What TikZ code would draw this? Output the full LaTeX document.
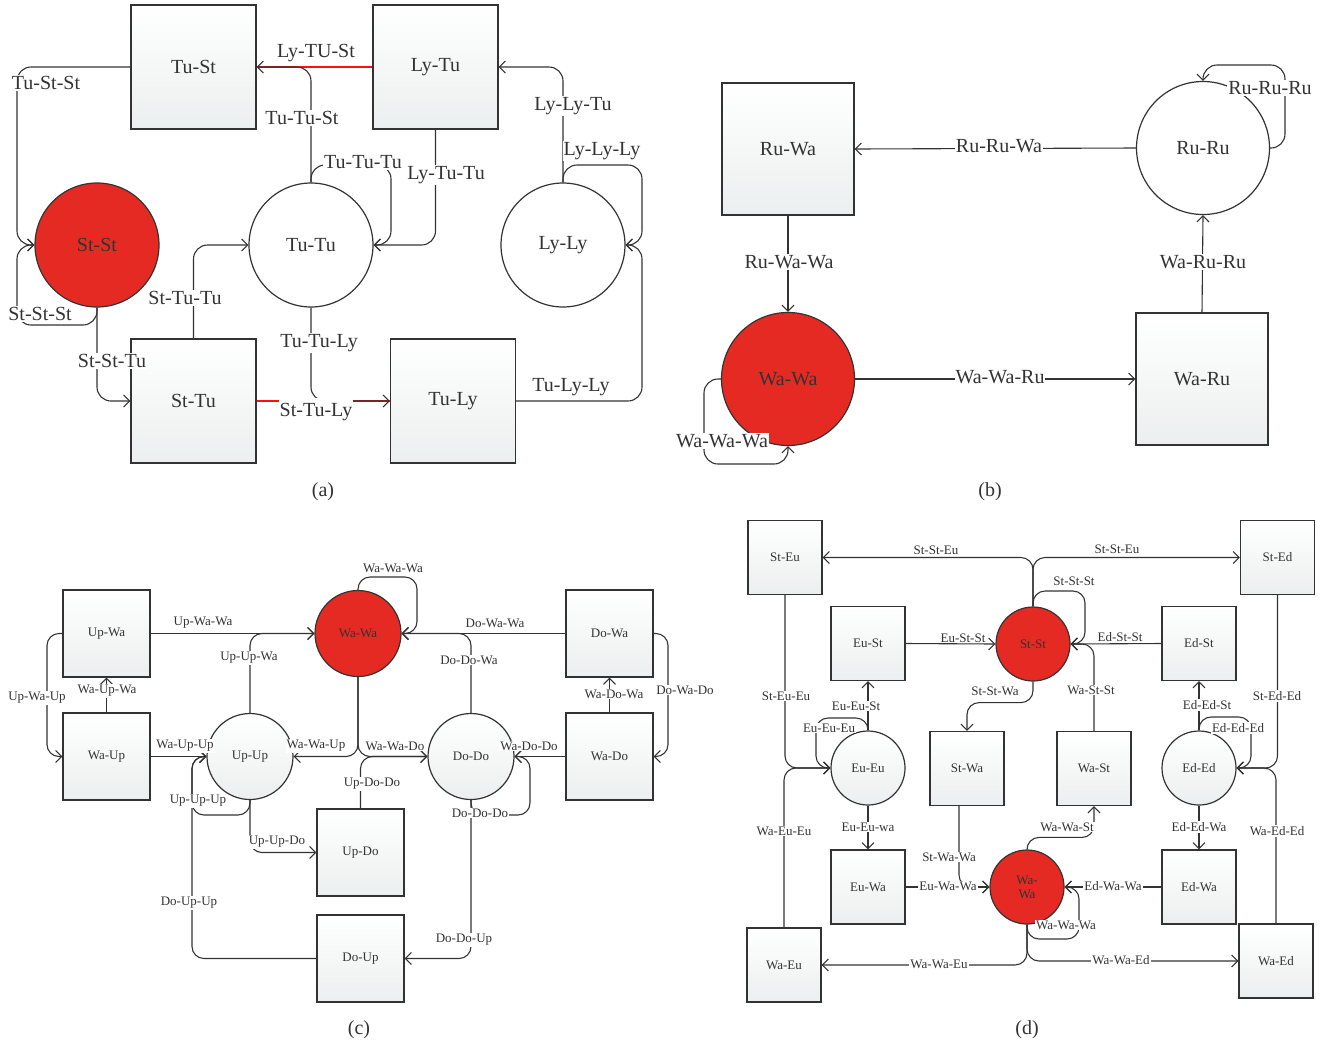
\documentclass[tikz,border=0pt]{standalone}
\usepackage{fontspec}
\setmainfont{Liberation Serif}
\usetikzlibrary{arrows.meta}
\definecolor{redfill}{HTML}{E52A24}
\definecolor{redline}{HTML}{FF1010}
\definecolor{ln}{HTML}{333333}
\definecolor{boxbot}{HTML}{ECEFEF}
\tikzset{
 fA/.style={font=\fontsize{20}{22}\selectfont},
 fC/.style={font=\fontsize{13}{14}\selectfont},
 bx/.style={rectangle, draw=ln, line width=1.3pt, top color=white, bottom color=boxbot, inner sep=0pt},
 cw/.style={circle, draw=ln, line width=1.2pt, fill=white, inner sep=0pt},
 cg/.style={circle, draw=ln, line width=1.2pt, top color=white, bottom color=boxbot, inner sep=0pt},
 cr/.style={circle, draw=ln, line width=1.2pt, fill=redfill, inner sep=0pt},
 bA/.style={bx, fA, minimum width=125pt, minimum height=124pt},
 cA/.style={fA, minimum size=124pt},
 bB/.style={bx, fA, minimum width=132pt, minimum height=132pt},
 cB/.style={fA, minimum size=133pt},
 bC/.style={bx, fC, minimum width=87pt, minimum height=87pt},
 cC/.style={fC, minimum size=86pt},
 bD/.style={bx, fC, minimum width=74pt, minimum height=74pt},
 cD/.style={fC, minimum size=74pt},
 ed/.style={draw=ln, line width=1.1pt, rounded corners=14pt, -{Straight Barb[length=6pt,width=12pt]}},
 edc/.style={ed, rounded corners=12pt},
 rl/.style={draw=redline, line width=1.4pt},
 lab/.style={fill=white, inner sep=1pt, text=ln},
 labA/.style={lab, fA},
 labC/.style={lab, fC},
}
\begin{document}
\begin{tikzpicture}[x=1pt,y=-1pt, every node/.append style={text=ln}]
\useasboundingbox (0,0) rectangle (1329,1045);
\fill[white] (0,0) rectangle (1329,1045);
% ---------------- (a) ----------------
\node[bA] (aTuSt) at (193.5,67) {Tu-St};
\node[bA] (aLyTu) at (435.5,67) {Ly-Tu};
\node[cA, cr] (aStSt) at (97,245) {St-St};
\node[cA, cw] (aTuTu) at (311,245) {Tu-Tu};
\node[cA, cw] (aLyLy) at (563,245) {Ly-Ly};
\node[bA] (aStTu) at (193.5,401) {St-Tu};
\node[bA] (aTuLy) at (453,401) {Tu-Ly};
\draw[rl] (aStTu.east) -- (aTuLy.west);
\draw[rl] (aLyTu.west) -- (aTuSt.east);
\draw[ed] (aTuSt.west) -| (17,245) -- (aStSt.west);
\draw[ed] (aStSt.south) |- (17,325) |- (aStSt.west);
\draw[ed] (aStSt.south) |- (aStTu.west);
\draw[ed] (aStTu.north) |- (aTuTu.west);
\draw[ed] (aTuTu.north) |- (aTuSt.east);
\draw[ed] (aTuTu.north) |- (391,165) |- (aTuTu.east);
\draw[ed] (aLyTu.south) |- (aTuTu.east);
\draw[ed] (aTuTu.south) |- (aTuLy.west);
\draw[ed] (aLyLy.north) |- (aLyTu.east);
\draw[ed] (aLyLy.north) |- (642,165) |- (aLyLy.east);
\draw[ed] (aTuLy.east) -| (642,245) -- (aLyLy.east);
\node[labA] (la1) at (46,83) {Tu-St-St};
\node[labA] (la2) at (316,53) {Ly-TU-St};
\node[labA] (la3) at (302,118) {Tu-Tu-St};
\node[labA] (la4) at (363,162) {Tu-Tu-Tu};
\node[labA] (la5) at (446,175) {Ly-Tu-Tu};
\node[labA] (la6) at (573,106) {Ly-Ly-Tu};
\node[labA] (la7) at (602,151) {Ly-Ly-Ly};
\node[labA] (la8) at (40,314) {St-St-St};
\node[labA] (la9) at (185,298) {St-Tu-Tu};
\node[labA] (la10) at (112,361) {St-St-Tu};
\node[labA] (la11) at (319,343) {Tu-Tu-Ly};
\node[labA, inner ysep=5pt] (la12) at (316,412) {St-Tu-Ly};
\node[labA] (la13) at (571,387) {Tu-Ly-Ly};
\node[fA] (capa) at (323,492) {(a)};
% ---------------- (b) ----------------
\node[bB] (bRuWa) at (788,149) {Ru-Wa};
\node[cB, cw] (bRuRu) at (1203,148) {Ru-Ru};
\node[cB, cr] (bWaWa) at (788,379) {Wa-Wa};
\node[bB] (bWaRu) at (1202,379) {Wa-Ru};
\draw[ed] (bRuRu.west) -- (bRuWa.east);
\draw[ed] (bRuWa.south) -- (bWaWa.north);
\draw[ed] (bWaWa.east) -- (bWaRu.west);
\draw[ed] (bWaRu.north) -- (bRuRu.south);
\draw[ed] (bRuRu.east) -| (1285,65) -| (bRuRu.north);
\draw[ed] (bWaWa.west) -| (704,464) -| (bWaWa.south);
\node[labA] (lb1) at (999,146) {Ru-Ru-Wa};
\node[labA] (lb2) at (789,262) {Ru-Wa-Wa};
\node[labA] (lb3) at (1000,377) {Wa-Wa-Ru};
\node[labA] (lb4) at (1203,262) {Wa-Ru-Ru};
\node[labA] (lb5) at (1270,88) {Ru-Ru-Ru};
\node[labA] (lb6) at (722,441) {Wa-Wa-Wa};
\node[fA] (capb) at (990,492) {(b)};
% ---------------- (c) ----------------
\node[bC] (cUpWa) at (106.5,633.5) {Up-Wa};
\node[bC] (cWaUp) at (106.5,756.5) {Wa-Up};
\node[cC, cg] (cUpUp) at (250,756.5) {Up-Up};
\node[cC, cr] (cWaWa) at (358,633.5) {Wa-Wa};
\node[bC] (cDoWa) at (609.5,633.5) {Do-Wa};
\node[bC] (cWaDo) at (609.5,756.5) {Wa-Do};
\node[cC, cg] (cDoDo) at (471,756.5) {Do-Do};
\node[bC] (cUpDo) at (360.5,852.5) {Up-Do};
\node[bC] (cDoUp) at (360.5,958.5) {Do-Up};
\draw[edc] (cUpWa.east) -- (cWaWa.west);
\draw[edc] (cUpUp.north) |- (cWaWa.west);
\draw[edc] (cWaWa.north) |- (417,577) |- (cWaWa.east);
\draw[edc] (cDoWa.west) -- (cWaWa.east);
\draw[edc] (cDoDo.north) |- (cWaWa.east);
\draw[edc] (cWaWa.south) |- (cUpUp.east);
\draw[edc] (cWaWa.south) |- (cDoDo.west);
\draw[edc] (cWaUp.east) -- (cUpUp.west);
\draw[edc] (cUpUp.south) |- (192,815) |- (cUpUp.west);
\draw[edc] (cDoUp.west) -| (192,756.5) -- (cUpUp.west);
\draw[edc] (cUpUp.south) |- (cUpDo.west);
\draw[edc] (cUpDo.north) |- (cDoDo.west);
\draw[edc] (cDoDo.south) |- (530,815) |- (cDoDo.east);
\draw[edc] (cDoDo.south) |- (cDoUp.east);
\draw[edc] (cWaDo.west) -- (cDoDo.east);
\draw[edc] (cWaDo.north) -- (cDoWa.south);
\draw[edc] (cDoWa.east) -| (668,756.5) -- (cWaDo.east);
\draw[edc] (cUpWa.west) -| (47,756.5) -- (cWaUp.west);
\draw[edc] (cWaUp.north) -- (cUpWa.south);
\node[labC] (lc1) at (203,623) {Up-Wa-Wa};
\node[labC] (lc2) at (249,658) {Up-Up-Wa};
\node[labC] (lc3) at (37,698) {Up-Wa-Up};
\node[labC] (lc4) at (107,691) {Wa-Up-Wa};
\node[labC] (lc5) at (185,746) {Wa-Up-Up};
\node[labC] (lc6) at (316,746) {Wa-Wa-Up};
\node[labC] (lc7) at (198,801) {Up-Up-Up};
\node[labC] (lc8) at (393,568) {Wa-Wa-Wa};
\node[labC] (lc9) at (495,623) {Do-Wa-Wa};
\node[labC] (lc10) at (469,660) {Do-Do-Wa};
\node[labC] (lc11) at (614,694) {Wa-Do-Wa};
\node[labC] (lc12) at (685,690) {Do-Wa-Do};
\node[labC] (lc13) at (395,746) {Wa-Wa-Do};
\node[labC] (lc14) at (529,746) {Wa-Do-Do};
\node[labC] (lc15) at (372,784) {Up-Do-Do};
\node[labC] (lc16) at (480,813) {Do-Do-Do};
\node[labC] (lc17) at (277,842) {Up-Up-Do};
\node[labC] (lc18) at (189,903) {Do-Up-Up};
\node[labC] (lc19) at (464,940) {Do-Do-Up};
\node[fA] (capc) at (359,1030) {(c)};
% ---------------- (d) ----------------
\node[bD] (dStEu) at (785,557.5) {St-Eu};
\node[bD] (dStEd) at (1277.5,557.5) {St-Ed};
\node[bD] (dEuSt) at (868,643.5) {Eu-St};
\node[cD, cr] (dStSt) at (1033,644) {St-St};
\node[bD] (dEdSt) at (1199,643.5) {Ed-St};
\node[cD, cg] (dEuEu) at (868,768) {Eu-Eu};
\node[bD] (dStWa) at (967,768.5) {St-Wa};
\node[bD] (dWaSt) at (1094,768.5) {Wa-St};
\node[cD, cg] (dEdEd) at (1199,768) {Ed-Ed};
\node[bD] (dEuWa) at (868,887) {Eu-Wa};
\node[cD, cr, align=center, font=\fontsize{13}{14}\selectfont] (dWaWa) at (1027,887) {Wa-\\Wa};
\node[bD] (dEdWa) at (1199,887) {Ed-Wa};
\node[bD] (dWaEu) at (784,965) {Wa-Eu};
\node[bD] (dWaEd) at (1276,961) {Wa-Ed};
\draw[edc] (dStSt.north) |- (dStEu.east);
\draw[edc] (dStSt.north) |- (dStEd.west);
\draw[edc] (dStSt.north) |- (1085,591) |- (dStSt.east);
\draw[edc] (dEdSt.west) -- (dStSt.east);
\draw[edc] (dWaSt.north) |- (dStSt.east);
\draw[edc] (dEuSt.east) -- (dStSt.west);
\draw[edc] (dStSt.south) -- ++(0,21) -| (dStWa.north);
\draw[edc] (dEuEu.north) -- (dEuSt.south);
\draw[edc] (dEuEu.north) |- (816,718) |- (dEuEu.west);
\draw[edc] (dStEu.south) |- (dEuEu.west);
\draw[edc] (dWaEu.north) |- (dEuEu.west);
\draw[edc] (dEuEu.south) -- (dEuWa.north);
\draw[edc] (dEuWa.east) -- (dWaWa.west);
\draw[edc] ([xshift=-8pt]dStWa.south) |- (dWaWa.west);
\draw[edc] (dWaWa.north) -- ++(0,-12) -| (dWaSt.south);
\draw[edc] (dEdWa.west) -- (dWaWa.east);
\draw[edc] (dWaWa.south) |- (1079,939) |- (dWaWa.east);
\draw[edc] (dWaWa.south) |- (dWaEu.east);
\draw[edc] (dWaWa.south) |- (dWaEd.west);
\draw[edc] (dEdEd.north) -- (dEdSt.south);
\draw[edc] (dEdEd.north) |- (1251,717) |- (dEdEd.east);
\draw[edc] (dStEd.south) |- (dEdEd.east);
\draw[edc] (dWaEd.north) |- (dEdEd.east);
\draw[edc] (dEdEd.south) -- (dEdWa.north);
\node[labC] (ld1) at (936,550) {St-St-Eu};
\node[labC] (ld2) at (1117,549) {St-St-Eu};
\node[labC] (ld3) at (1074,581) {St-St-St};
\node[labC] (ld4) at (1120,637) {Ed-St-St};
\node[labC] (ld5) at (1091,690) {Wa-St-St};
\node[labC] (ld6) at (963,638) {Eu-St-St};
\node[labC] (ld7) at (995,691) {St-St-Wa};
\node[labC] (ld8) at (786,696) {St-Eu-Eu};
\node[labC] (ld9) at (856,706) {Eu-Eu-St};
\node[labC] (ld10) at (829,728) {Eu-Eu-Eu};
\node[labC] (ld11) at (1207,705) {Ed-Ed-St};
\node[labC] (ld12) at (1238,728) {Ed-Ed-Ed};
\node[labC] (ld13) at (1277,696) {St-Ed-Ed};
\node[labC] (ld14) at (784,831) {Wa-Eu-Eu};
\node[labC] (ld15) at (868,827) {Eu-Eu-wa};
\node[labC] (ld16) at (949,857) {St-Wa-Wa};
\node[labC] (ld17) at (948,886) {Eu-Wa-Wa};
\node[labC] (ld18) at (939,964) {Wa-Wa-Eu};
\node[labC] (ld19) at (1067,827) {Wa-Wa-St};
\node[labC] (ld20) at (1113,886) {Ed-Wa-Wa};
\node[labC] (ld21) at (1066,925) {Wa-Wa-Wa};
\node[labC] (ld22) at (1121,960) {Wa-Wa-Ed};
\node[labC] (ld23) at (1199,827) {Ed-Ed-Wa};
\node[labC] (ld24) at (1277,831) {Wa-Ed-Ed};
\node[fA] (capd) at (1027,1030) {(d)};
\end{tikzpicture}
\end{document}
